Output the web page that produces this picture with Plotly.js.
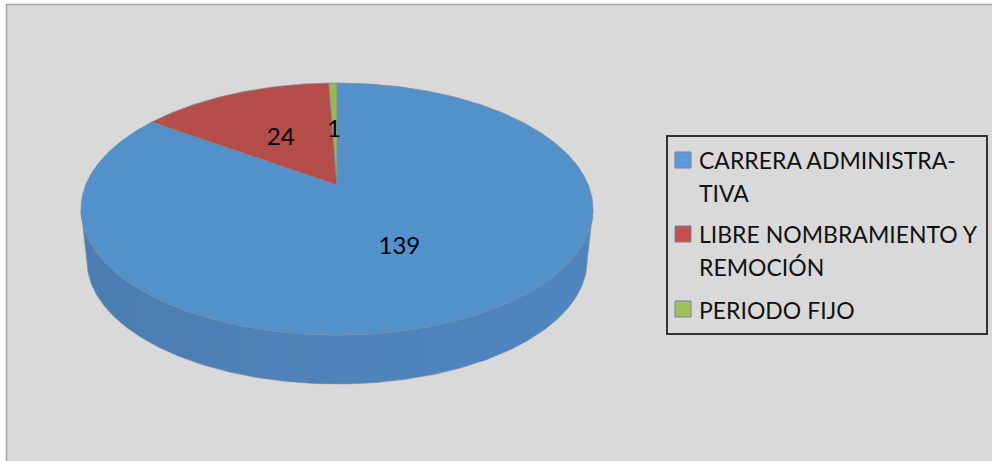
<!DOCTYPE html>
<html>
<head>
<meta charset="utf-8">
<script src="https://cdn.plot.ly/plotly-3.0.1.min.js"></script>
<style>html,body{margin:0;padding:0;background:#fff}#chart{width:992px;height:461px}</style>
</head>
<body>
<div id="chart"></div>
<script>
// Slices run clockwise from twelve o'clock.
const categories = ['CARRERA ADMINISTRATIVA', 'LIBRE NOMBRAMIENTO Y REMOCIÓN', 'PERIODO FIJO'];
const values = [139, 24, 1];
const faceColors = ['#5391cb', '#b54d4a', '#98b854'];
const keyColors = ['#5a9bd8', '#c4504e', '#9fc05a'];
const legendLines = [
  ['CARRERA ADMINISTRA-', 'TIVA'],
  ['LIBRE NOMBRAMIENTO Y', 'REMOCIÓN'],
  ['PERIODO FIJO']
];

// Tilted-disc projection, in page pixels.
const disc = {cx: 337, cy: 185, a: 251.3, b: -86.2, k: 0.1905, depthFront: 384, topFront: 335, shrink: 0.977};
const labelPlace = {radius: [0.53, 0.47, 0.49], shiftX: [-5, -4, -1]};
const legendLayout = {left: 667, top: 136, right: 987, bottom: 334, keyX: 683, textX: 697,
  lineY: [[160, 193], [234, 267], [310]], keyY: [160, 234, 309]};
const FONT = 'Lato, Carlito, sans-serif';

const total = values.reduce((s, v) => s + v, 0);

// Map a point on the unit disc to the page.
function project(x, y) {
  const w = 1 + disc.k * y;
  return [disc.cx + disc.a * x / w, (disc.cy + disc.b * y) / w];
}
function rimTop(t) { return project(Math.sin(t), Math.cos(t)); }
function rimBottom(t) {
  const p = rimTop(t);
  return [disc.cx + disc.shrink * (p[0] - disc.cx), disc.depthFront + disc.shrink * (p[1] - disc.topFront)];
}

const spans = [];
let running = 0;
values.forEach(v => {
  const start = running / total * 2 * Math.PI;
  running += v;
  spans.push([start, running / total * 2 * Math.PI]);
});

function arcAngles(span) {
  const n = Math.max(2, Math.ceil((span[1] - span[0]) / 0.01));
  const out = [];
  for (let i = 0; i <= n; i++) out.push(span[0] + (span[1] - span[0]) * i / n);
  return out;
}

const traces = [];

// Side wall: only the part of each slice's rim that faces the viewer.
spans.forEach((span, i) => {
  const front = arcAngles(span).filter(t => Math.cos(t) <= -disc.k);
  if (front.length < 2) return;
  const top = front.map(rimTop);
  const bottom = front.map(rimBottom).reverse();
  const ring = top.concat(bottom);
  ring.push(top[0]);
  traces.push({
    type: 'scatter', mode: 'lines', hoverinfo: 'skip', showlegend: false,
    x: ring.map(p => p[0]), y: ring.map(p => p[1]),
    fill: 'toself',
    fillgradient: {type: 'horizontal', colorscale: [[0, '#4a7db2'], [0.5, '#4f83b9'], [1, '#4e86c0']]},
    line: {color: '#7f8b9f', width: 0.6}
  });
});

// Top faces.
spans.forEach((span, i) => {
  const rim = arcAngles(span).map(rimTop);
  const apex = project(0, 0);
  const ring = [apex].concat(rim, [apex]);
  traces.push({
    type: 'scatter', mode: 'lines', hoverinfo: 'skip', showlegend: false, name: categories[i],
    x: ring.map(p => p[0]), y: ring.map(p => p[1]),
    fill: 'toself', fillcolor: faceColors[i],
    line: {color: '#7d88a3', width: 0.7}
  });
});

// Value labels along each slice's middle angle.
const labelPoints = spans.map((span, i) => {
  const mid = (span[0] + span[1]) / 2;
  const r = labelPlace.radius[i];
  const p = project(r * Math.sin(mid), r * Math.cos(mid));
  return [p[0] + labelPlace.shiftX[i], p[1]];
});
traces.push({
  type: 'scatter', mode: 'text', hoverinfo: 'skip', showlegend: false,
  x: labelPoints.map(p => p[0]), y: labelPoints.map(p => p[1]),
  text: values.map(String), textposition: 'middle center',
  textfont: {family: FONT, size: 24, color: '#000'}
});

// Legend keys.
traces.push({
  type: 'scatter', mode: 'markers', hoverinfo: 'skip', showlegend: false,
  x: keyColors.map(() => legendLayout.keyX), y: legendLayout.keyY,
  marker: {symbol: 'square', size: 16, color: keyColors, line: {color: '#7480a6', width: 1}}
});

const annotations = [];
legendLines.forEach((lines, i) => {
  lines.forEach((line, j) => {
    annotations.push({
      xref: 'x', yref: 'y', x: legendLayout.textX, y: legendLayout.lineY[i][j],
      text: line, showarrow: false, xanchor: 'left', yanchor: 'middle',
      font: {family: FONT, size: 23, color: '#111'}
    });
  });
});

const layout = {
  width: 992, height: 461,
  margin: {l: 0, r: 0, t: 0, b: 0},
  paper_bgcolor: '#ffffff', plot_bgcolor: '#ffffff',
  showlegend: false,
  xaxis: {range: [0, 992], visible: false, fixedrange: true},
  yaxis: {range: [461, 0], visible: false, fixedrange: true},
  shapes: [
    {type: 'rect', layer: 'below', xref: 'x', yref: 'y', x0: 6.5, y0: 4.5, x1: 1000, y1: 470,
     fillcolor: '#d9d9d9', line: {color: '#a3a3a3', width: 1.5}},
    {type: 'rect', layer: 'below', xref: 'x', yref: 'y',
     x0: legendLayout.left, y0: legendLayout.top, x1: legendLayout.right, y1: legendLayout.bottom,
     fillcolor: '#d9d9d9', line: {color: '#333333', width: 2}}
  ],
  annotations: annotations
};

Plotly.newPlot('chart', traces, layout, {displayModeBar: false, staticPlot: true});
</script>
</body>
</html>
